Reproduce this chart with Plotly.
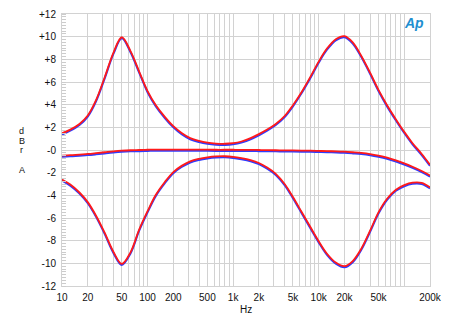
import plotly.graph_objects as go

freq = [10, 12.5, 16, 20, 25, 31.5, 40, 50, 63, 80,
        100, 125, 160, 200, 250, 315, 400, 500, 630, 800,
        1000, 1250, 1600, 2000, 2500, 3150, 4000, 5000, 6300, 8000,
        10000, 12500, 16000, 20000, 25000, 31500, 40000, 50000, 63000, 80000,
        100000, 125000, 160000, 200000]

boost_red = [1.47, 1.8, 2.3, 3.05, 4.4, 6.4, 8.6, 9.95, 8.75, 6.9,
             5.2, 3.95, 2.9, 2.1, 1.5, 1.05, 0.8, 0.65, 0.57, 0.55,
             0.6, 0.75, 1.05, 1.4, 1.8, 2.3, 3.0, 3.95, 5.1, 6.45,
             7.8, 8.95, 9.8, 10.05, 9.5, 8.3, 6.8, 5.3, 3.95, 2.7,
             1.6, 0.6, -0.35, -1.3]
boost_blue = [1.37, 1.7, 2.2, 2.95, 4.3, 6.3, 8.5, 9.85, 8.65, 6.8,
              5.1, 3.85, 2.8, 2.0, 1.4, 0.95, 0.7, 0.55, 0.47, 0.45,
              0.5, 0.65, 0.95, 1.3, 1.7, 2.2, 2.9, 3.85, 5.0, 6.35,
              7.7, 8.85, 9.7, 9.95, 9.4, 8.2, 6.7, 5.2, 3.85, 2.6,
              1.5, 0.5, -0.45, -1.4]

cut_red = [-2.6, -3.05, -3.75, -4.6, -5.8, -7.3, -9.0, -10.05, -9.05, -7.0,
           -5.4, -3.95, -2.8, -1.95, -1.4, -1.0, -0.78, -0.65, -0.57, -0.55,
           -0.6, -0.72, -0.9, -1.15, -1.55, -2.1, -3.0, -4.15, -5.45, -6.8,
           -8.05, -9.15, -9.95, -10.25, -9.8, -8.7, -7.1, -5.5, -4.3, -3.5,
           -3.1, -2.88, -2.9, -3.3]
cut_blue = [-2.7, -3.15, -3.85, -4.7, -5.9, -7.4, -9.1, -10.15, -9.15, -7.1,
            -5.5, -4.05, -2.9, -2.05, -1.5, -1.1, -0.88, -0.75, -0.67, -0.65,
            -0.7, -0.82, -1.0, -1.25, -1.65, -2.2, -3.1, -4.25, -5.55, -6.9,
            -8.15, -9.25, -10.05, -10.35, -9.9, -8.8, -7.2, -5.6, -4.4, -3.6,
            -3.2, -2.98, -3.0, -3.4]

flat_red = [-0.5, -0.46, -0.4, -0.35, -0.28, -0.2, -0.12, -0.06, -0.02, 0.0,
            0.02, 0.03, 0.03, 0.03, 0.03, 0.03, 0.03, 0.03, 0.02, 0.02,
            0.02, 0.01, 0.01, 0.0, -0.01, -0.02, -0.03, -0.04, -0.05, -0.06,
            -0.08, -0.1, -0.12, -0.15, -0.2, -0.26, -0.36, -0.5, -0.68, -0.92,
            -1.18, -1.48, -1.85, -2.25]
flat_blue = [-0.6, -0.56, -0.5, -0.45, -0.38, -0.3, -0.22, -0.16, -0.12, -0.1,
             -0.08, -0.07, -0.07, -0.07, -0.07, -0.07, -0.07, -0.07, -0.08, -0.08,
             -0.08, -0.09, -0.09, -0.1, -0.11, -0.12, -0.13, -0.14, -0.15, -0.16,
             -0.18, -0.2, -0.22, -0.25, -0.3, -0.36, -0.46, -0.6, -0.78, -1.02,
             -1.28, -1.58, -1.95, -2.35]

y_ticks = [-12, -10, -8, -6, -4, -2, 0, 2, 4, 6, 8, 10, 12]
y_labels = ["-12", "-10", "-8", "-6", "-4", "-2", "-0", "+2", "+4", "+6", "+8", "+10", "+12"]
x_labelled = {10: "10", 20: "20", 50: "50", 100: "100", 200: "200", 500: "500", 1000: "1k", 2000: "2k",
              5000: "5k", 10000: "10k", 20000: "20k", 50000: "50k", 200000: "200k"}

grid_x = [m * 10 ** k for k in range(1, 5) for m in range(1, 10)] + [100000, 200000]
grid_text = [x_labelled.get(v, "") for v in grid_x]

fig = go.Figure()
for ys in (boost_blue, cut_blue, flat_blue):
    fig.add_trace(go.Scatter(x=freq, y=ys, mode="lines", line=dict(color="#2f3cff", width=2, shape="spline"),
                             hoverinfo="skip", showlegend=False))
for ys in (boost_red, cut_red, flat_red):
    fig.add_trace(go.Scatter(x=freq, y=ys, mode="lines", line=dict(color="#ff1a1a", width=1.8, shape="spline"),
                             hoverinfo="skip", showlegend=False))

font = dict(family="Liberation Sans, Arial, sans-serif", size=10, color="#111")
fig.update_layout(
    width=450, height=318,
    margin=dict(l=62, r=13, t=8, b=32),
    paper_bgcolor="white", plot_bgcolor="white",
    font=font,
    xaxis=dict(type="log", range=[1, 5.30103], tickmode="array", tickvals=grid_x, ticktext=grid_text,
               showgrid=True, gridcolor="#d2d2d2", gridwidth=1, ticks="", zeroline=False,
               showline=True, linecolor="#d2d2d2", mirror=True, tickfont=font, ticklabelstandoff=2),
    yaxis=dict(range=[-12, 12], tickmode="array", tickvals=y_ticks, ticktext=y_labels,
               showgrid=True, gridcolor="#d2d2d2", gridwidth=1, zeroline=False,
               showline=True, linecolor="#d2d2d2", mirror=True, ticks="", tickfont=font,
               ticklabelstandoff=3,
               minor=dict(dtick=0.25, tick0=0, ticks="inside", ticklen=4, tickcolor="#cccccc", showgrid=False)),
)

small = dict(family="Liberation Sans, Arial, sans-serif", size=9, color="#111")
ylab = [("d", 127.5), ("B", 137.3), ("r", 146.9), ("A", 167.3)]
for ch, ypx in ylab:
    fig.add_annotation(text=ch, xref="paper", yref="paper", x=(21 - 62) / 375, y=(286 - ypx) / 278,
                       showarrow=False, font=small, xanchor="center", yanchor="middle")
fig.add_annotation(text="Hz", xref="paper", yref="paper", x=(249 - 62) / 375, y=(286 - 310) / 278,
                   showarrow=False, font=font, xanchor="center", yanchor="middle")
fig.add_annotation(text="<b><i>Ap</i></b>", xref="paper", yref="paper", x=(421 - 62) / 375, y=(286 - 17) / 278,
                   showarrow=False, font=dict(family="Liberation Sans, Arial, sans-serif", size=14, color="#1e8fd0"),
                   xanchor="center", yanchor="middle")

fig.write_html("out.html")
